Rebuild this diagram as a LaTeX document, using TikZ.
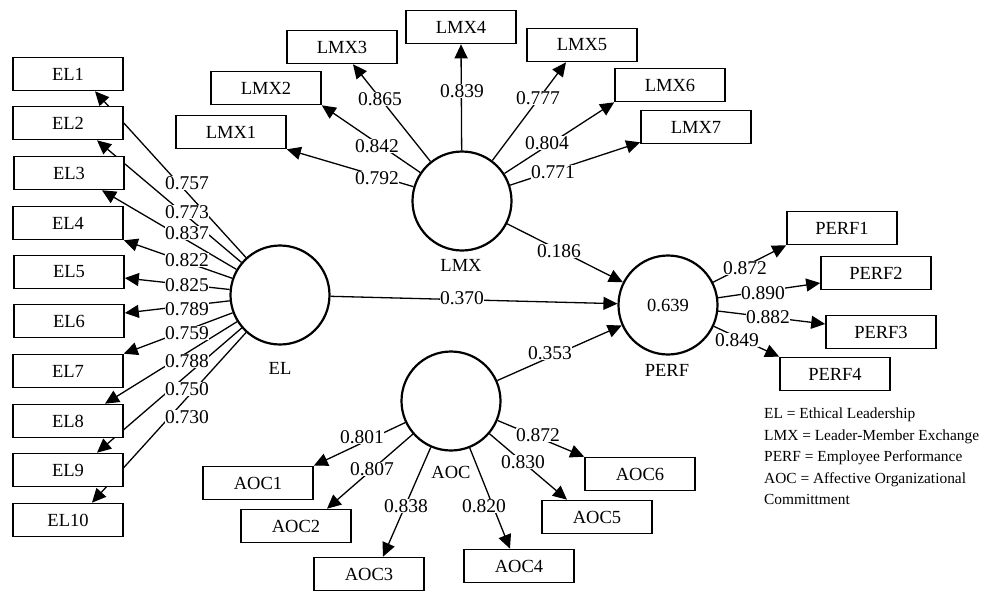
\documentclass[tikz,border=0pt]{standalone}
\usepackage{fontspec}
\setmainfont{Liberation Serif}
\usetikzlibrary{arrows.meta,backgrounds,calc}
\begin{document}
\begin{tikzpicture}[x=1pt,y=-1pt,
  box/.style={draw, line width=1.6pt, fill=white, minimum width=110pt, minimum height=33pt, inner sep=0pt, font=\fontsize{18.5}{18.5}\selectfont},
  lat/.style={circle, draw, line width=2.2pt, fill=white, minimum size=99pt, inner sep=0pt},
  lbl/.style={fill=white, inner sep=0.5pt, font=\fontsize{19.5}{19.5}\selectfont},
  cname/.style={inner sep=0pt, font=\fontsize{18.5}{18.5}\selectfont},
  link/.style={line width=1.3pt, -{Triangle[length=14pt,width=13pt]}}]
\useasboundingbox (0,0) rectangle (989,592);

% latent variables
\node[lat] (EL) at (280,295) {};
\node[lat] (LMX) at (462,201) {};
\node[lat] (PERF) at (668,305) {};
\node[lat] (AOC) at (451,401) {};
\node[cname] (PERFr2) at (668,305) {0.639};
\node[cname] (ELn) at (280,368) {EL};
\node[cname] (LMXn) at (461,265) {LMX};
\node[cname] (PERFn) at (667,370) {PERF};
\node[cname] (AOCn) at (451,472) {AOC};

% EL indicators
\node[box] (EL1) at (68,74) {EL1};
\node[box] (EL2) at (68,123) {EL2};
\node[box] (EL3) at (69,173) {EL3};
\node[box] (EL4) at (68,223) {EL4};
\node[box] (EL5) at (69,272) {EL5};
\node[box] (EL6) at (69,321) {EL6};
\node[box] (EL7) at (68,371) {EL7};
\node[box] (EL8) at (68,421) {EL8};
\node[box] (EL9) at (68,470) {EL9};
\node[box] (EL10) at (68,520) {EL10};

% LMX indicators
\node[box] (LMX1) at (231,132) {LMX1};
\node[box] (LMX2) at (266,88) {LMX2};
\node[box] (LMX3) at (342,47) {LMX3};
\node[box] (LMX4) at (461,27) {LMX4};
\node[box] (LMX5) at (582,45) {LMX5};
\node[box] (LMX6) at (670,85) {LMX6};
\node[box] (LMX7) at (696,127) {LMX7};

% PERF indicators
\node[box] (PERF1) at (842,228) {PERF1};
\node[box] (PERF2) at (876,273) {PERF2};
\node[box] (PERF3) at (881,332) {PERF3};
\node[box] (PERF4) at (835,374) {PERF4};

% AOC indicators
\node[box] (AOC1) at (258,483) {AOC1};
\node[box] (AOC2) at (296,526) {AOC2};
\node[box] (AOC3) at (369,574) {AOC3};
\node[box] (AOC4) at (519,566) {AOC4};
\node[box] (AOC5) at (597,517) {AOC5};
\node[box] (AOC6) at (640,474) {AOC6};

\begin{scope}[on background layer]
  \draw[link] (EL) -- ([xshift=27pt]EL1.south);
  \draw[link] (EL) -- ([xshift=29pt]EL2.south);
  \draw[link] (EL) -- ([xshift=33pt]EL3.south);
  \draw[link] (EL) -- (EL4.south east);
  \draw[link] (EL) -- ([yshift=-6pt]EL5.east);
  \draw[link] (EL) -- ([yshift=8pt]EL6.east);
  \draw[link] (EL) -- (EL7.north east);
  \draw[link] (EL) -- ([xshift=37pt]EL8.north);
  \draw[link] (EL) -- ([xshift=29pt]EL9.north);
  \draw[link] (EL) -- ([xshift=24pt]EL10.north);

  \draw[link] (LMX) -- (LMX1.south east);
  \draw[link] (LMX) -- (LMX2.south east);
  \draw[link] (LMX) -- ([xshift=11pt]LMX3.south);
  \draw[link] (LMX) -- (LMX4.south);
  \draw[link] (LMX) -- ([xshift=-16pt]LMX5.south);
  \draw[link] (LMX) -- (LMX6.south west);
  \draw[link] (LMX) -- ([yshift=2pt]LMX7.south west);

  \draw[link] (PERF) -- (PERF1.south west);
  \draw[link] (PERF) -- ([yshift=-10pt]PERF2.west);
  \draw[link] (PERF) -- ([yshift=8pt]PERF3.west);
  \draw[link] (PERF) -- (PERF4.north west);

  \draw[link] (AOC) -- (AOC1.north east);
  \draw[link] (AOC) -- ([xshift=31pt]AOC2.north);
  \draw[link] (AOC) -- ([xshift=14pt]AOC3.north);
  \draw[link] (AOC) -- ([xshift=-9pt]AOC4.north);
  \draw[link] (AOC) -- ([xshift=-30pt]AOC5.north);
  \draw[link] (AOC) -- (AOC6.north west);

  \draw[link] (LMX) -- (PERF);
  \draw[link] (EL) -- (PERF);
  \draw[link] (AOC) -- (PERF);
\end{scope}

% loading labels
\node[lbl] (l1) at (187,183) {0.757};
\node[lbl] (l2) at (187,212) {0.773};
\node[lbl] (l3) at (187,233) {0.837};
\node[lbl] (l4) at (187,260) {0.822};
\node[lbl] (l5) at (187,285) {0.825};
\node[lbl] (l6) at (187,309) {0.789};
\node[lbl] (l7) at (187,333) {0.759};
\node[lbl] (l8) at (187,361) {0.788};
\node[lbl] (l9) at (187,389) {0.750};
\node[lbl] (l10) at (187,417) {0.730};

\node[lbl] (m1) at (377,178) {0.792};
\node[lbl] (m2) at (377,146) {0.842};
\node[lbl] (m3) at (380,99) {0.865};
\node[lbl] (m4) at (462,91) {0.839};
\node[lbl] (m5) at (538,98) {0.777};
\node[lbl] (m6) at (547,143) {0.804};
\node[lbl] (m7) at (553,172) {0.771};

\node[lbl] (p1) at (745,268) {0.872};
\node[lbl] (p2) at (763,293) {0.890};
\node[lbl] (p3) at (768,317) {0.882};
\node[lbl] (p4) at (737,340) {0.849};

\node[lbl] (a1) at (362,437) {0.801};
\node[lbl] (a2) at (372,469) {0.807};
\node[lbl] (a3) at (406,506) {0.838};
\node[lbl] (a4) at (484,506) {0.820};
\node[lbl] (a5) at (523,462) {0.830};
\node[lbl] (a6) at (538,435) {0.872};

\node[lbl] (s1) at (559,251) {0.186};
\node[lbl] (s2) at (462,298) {0.370};
\node[lbl] (s3) at (550,353) {0.353};

% legend
\node[anchor=north west, align=left, inner sep=0pt, font=\fontsize{15.4}{21.5}\selectfont] (legend) at (764,408)
  {EL = Ethical Leadership\\
   LMX = Leader-Member Exchange\\
   PERF = Employee Performance\\
   AOC = Affective Organizational\\
   Committment};
\end{tikzpicture}
\end{document}
